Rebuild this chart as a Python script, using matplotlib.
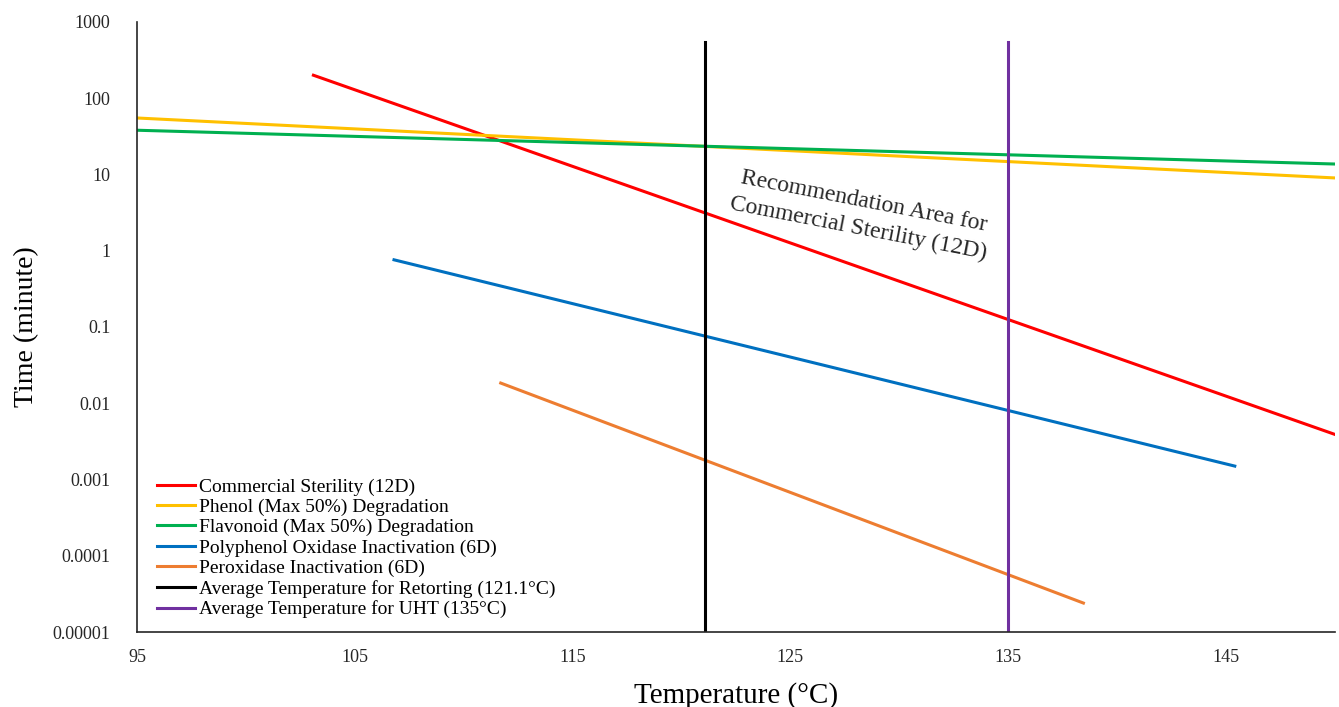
import matplotlib
matplotlib.use("Agg")
import matplotlib.pyplot as plt
from matplotlib.ticker import FixedLocator, NullLocator

plt.rcParams["font.family"] = ["Liberation Serif", "DejaVu Serif"]

# Line endpoints (straight lines on a log axis)
sterility_t = [103.1, 150.0]
sterility_y = [200.0, 0.0039]
phenol_t = [95.0, 150.0]
phenol_y = [55.0, 9.0]
flavonoid_t = [95.0, 150.0]
flavonoid_y = [38.0, 13.7]
ppo_t = [106.8, 145.4]
ppo_y = [0.76, 0.0015]
pod_t = [111.7, 138.45]
pod_y = [0.0184, 0.000024]

retort_temp = 121.1
uht_temp = 135.0
vline_y = [0.00001, 550.0]

x_ticks = [95, 105, 115, 125, 135, 145]
y_ticks = [0.00001, 0.0001, 0.001, 0.01, 0.1, 1, 10, 100, 1000]
y_tick_labels = ["0.00001", "0.0001", "0.001", "0.01", "0.1", "1", "10", "100", "1000"]

fig = plt.figure(figsize=(13.39, 7.07), dpi=100)
ax = fig.add_axes([0.1023, 0.106, 0.8947, 0.863])

lw = 2.2
ax.plot(sterility_t, sterility_y, color="#ff0000", lw=lw, label="Commercial Sterility (12D)")
ax.plot(phenol_t, phenol_y, color="#ffc000", lw=lw, label="Phenol (Max 50%) Degradation")
ax.plot(flavonoid_t, flavonoid_y, color="#00b050", lw=lw, label="Flavonoid (Max 50%) Degradation")
ax.plot(ppo_t, ppo_y, color="#0070c0", lw=lw, label="Polyphenol Oxidase Inactivation (6D)")
ax.plot(pod_t, pod_y, color="#ed7d31", lw=lw, label="Peroxidase Inactivation (6D)")
ax.plot([retort_temp, retort_temp], vline_y, color="#000000", lw=lw,
        label="Average Temperature for Retorting (121.1°C)")
ax.plot([uht_temp, uht_temp], vline_y, color="#7030a0", lw=lw,
        label="Average Temperature for UHT (135°C)")

ax.set_yscale("log")
ax.set_xlim(95, 150)
ax.set_ylim(0.00001, 1000)
ax.xaxis.set_major_locator(FixedLocator(x_ticks))
ax.yaxis.set_major_locator(FixedLocator(y_ticks))
ax.yaxis.set_minor_locator(NullLocator())
ax.set_yticklabels(y_tick_labels)
ax.tick_params(axis="both", length=0, labelsize=13, colors="#262626")
ax.tick_params(axis="y", pad=19)
ax.tick_params(axis="x", pad=12)

for side in ["top", "right"]:
    ax.spines[side].set_visible(False)
for side in ["left", "bottom"]:
    ax.spines[side].set_color("#262626")
    ax.spines[side].set_linewidth(1.2)

ax.set_xlabel("Temperature (°C)", fontsize=21, labelpad=12)
ax.set_ylabel("Time (minute)", fontsize=20, labelpad=10)

# annotation placed in pixel coordinates (origin bottom-left)
ax.text(861, 707 - 215, "Recommendation Area for\nCommercial Sterility (12D)",
        transform=None, fontsize=17, rotation=-11, ha="center", va="center",
        color="#262626", linespacing=1.35)

ax.legend(loc="lower left", bbox_to_anchor=(0.005, 0.0), frameon=False,
          fontsize=14, labelspacing=0.14, handlelength=2.0, handletextpad=0.2,
          borderaxespad=0.3)

fig.savefig("out.png", dpi=100)
